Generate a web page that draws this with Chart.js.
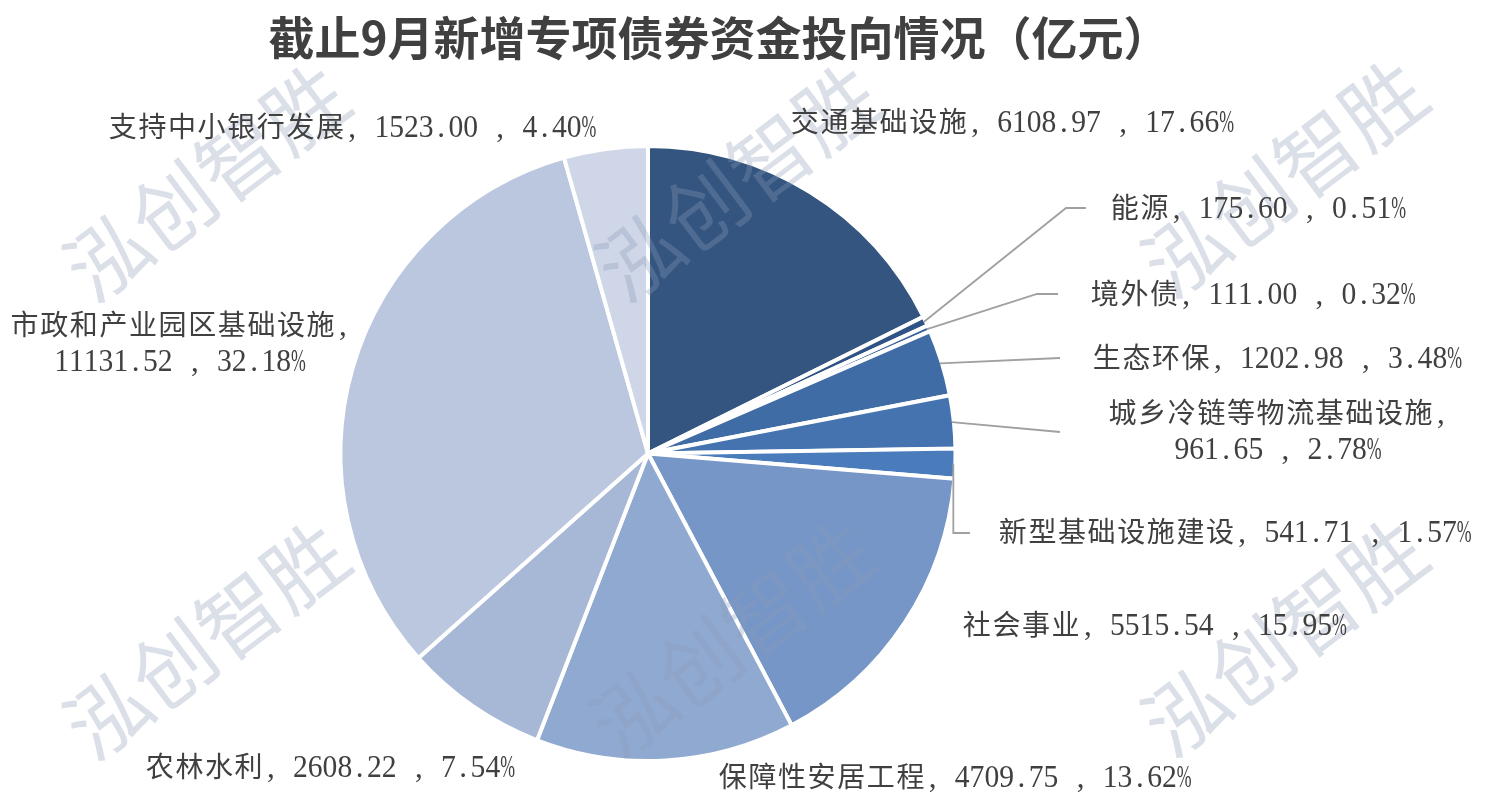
<!DOCTYPE html>
<html>
<head>
<meta charset="utf-8">
<script src="https://cdn.jsdelivr.net/npm/chart.js@4/dist/chart.umd.min.js"></script>
<style>
  html, body { margin: 0; padding: 0; background: #ffffff; }
  #wrap { width: 1488px; height: 805px; position: relative; }
</style>
</head>
<body>
<div id="wrap"><canvas id="chart"></canvas></div>
<script>
const TITLE = "截止9月新增专项债券资金投向情况（亿元）";
const WATERMARK = "泓创智胜";

const CATEGORIES = [
  "交通基础设施",
  "能源",
  "境外债",
  "生态环保",
  "城乡冷链等物流基础设施",
  "新型基础设施建设",
  "社会事业",
  "保障性安居工程",
  "农林水利",
  "市政和产业园区基础设施",
  "支持中小银行发展",
];
const VALUES = [6108.97, 175.60, 111.00, 1202.98, 961.65, 541.71, 5515.54, 4709.75, 2608.22, 11131.52, 1523.00];
const PERCENTS = ["17.66", "0.51", "0.32", "3.48", "2.78", "1.57", "15.95", "13.62", "7.54", "32.18", "4.40"];

const COLORS = [
  "#34557F",
  "#2F5384",
  "#3A629A",
  "#406CA6",
  "#4573B0",
  "#4A7BBB",
  "#7596C6",
  "#90A9D0",
  "#A7B8D7",
  "#BAC7DF",
  "#CED6E8",
];

// where each label sits; "line" holds the leader-line bend points
const LABEL_LAYOUT = [
  { x: 790, y: 122, align: "left" },
  { x: 1110, y: 208, align: "left", line: [[1066, 208], [1086, 208]] },
  { x: 1090, y: 294, align: "left", line: [[1037, 294], [1058, 294]] },
  { x: 1092, y: 358, align: "left", line: [[1060, 358]] },
  { x: 1278, y: 413, align: "center", wrap: true, line: [[1060, 432]] },
  { x: 998, y: 532, align: "left", line: [["arc", 533], [970, 533]] },
  { x: 962, y: 625, align: "left" },
  { x: 718, y: 777, align: "left" },
  { x: 145, y: 767, align: "left" },
  { x: 180, y: 325, align: "center", wrap: true },
  { x: 108, y: 127, align: "left" },
];

const WATERMARK_SPOTS = [[206, 182], [738, 182], [1284, 178], [206, 640], [732, 638], [1284, 637]];

const TEXT_COLOR = "#404040";
const LINE_COLOR = "#A0A0A0";
const CJK_RE = /[\u2E80-\u9FFF\u3000-\u303F\uFF00-\uFFEF]/;
const CJK_CELL = 29.6;
const ASCII_CELL = 14.8;

function textWidth(str) {
  let w = 0;
  for (const ch of str) w += CJK_RE.test(ch) ? CJK_CELL : ASCII_CELL;
  return w;
}

// fixed-cell text, like the song-style font of the original
function drawCellText(ctx, str, x, y, align) {
  let cx = align === "center" ? x - textWidth(str) / 2 : x;
  const base = y + 10;
  ctx.fillStyle = TEXT_COLOR;
  ctx.textAlign = "center";
  ctx.textBaseline = "alphabetic";
  for (const ch of str) {
    const cjk = CJK_RE.test(ch);
    const cell = cjk ? CJK_CELL : ASCII_CELL;
    if (ch !== " ") {
      ctx.font = cjk ? '28px "Noto Sans CJK SC"' : '31px "Liberation Serif"';
      const w = ctx.measureText(ch).width;
      ctx.save();
      ctx.translate(cx + cell / 2, base);
      if (w > cell) ctx.scale(cell / w, 1);
      ctx.fillText(ch, 0, 0);
      ctx.restore();
    }
    cx += cell;
  }
}

function labelLines(i) {
  const name = CATEGORIES[i];
  const rest = `${VALUES[i].toFixed(2)} , ${PERCENTS[i]}%`;
  if (LABEL_LAYOUT[i].wrap) return [`${name},`, rest];
  return [`${name}, ${rest}`];
}

const overlayPlugin = {
  id: "overlay",
  afterDraw(chart) {
    const ctx = chart.ctx;
    const arcs = chart.getDatasetMeta(0).data;

    // watermark
    ctx.save();
    ctx.fillStyle = "rgba(140, 155, 185, 0.32)";
    ctx.font = '82px "Noto Sans CJK SC"';
    ctx.textAlign = "center";
    ctx.textBaseline = "middle";
    for (const [wx, wy] of WATERMARK_SPOTS) {
      ctx.save();
      ctx.translate(wx, wy);
      ctx.rotate(-37 * Math.PI / 180);
      ctx.fillText(WATERMARK, 0, 0);
      ctx.restore();
    }
    ctx.restore();

    // leader lines
    ctx.save();
    ctx.strokeStyle = LINE_COLOR;
    ctx.lineWidth = 1.8;
    LABEL_LAYOUT.forEach((lay, i) => {
      if (!lay.line) return;
      const arc = arcs[i];
      const mid = (arc.startAngle + arc.endAngle) / 2;
      const r = arc.outerRadius - 2;
      const sx = arc.x + Math.cos(mid) * r;
      const sy = arc.y + Math.sin(mid) * r;
      ctx.beginPath();
      ctx.moveTo(sx, sy);
      for (const [px, py] of lay.line) {
        ctx.lineTo(px === "arc" ? sx : px, py);
      }
      ctx.stroke();
    });
    ctx.restore();

    // labels
    LABEL_LAYOUT.forEach((lay, i) => {
      labelLines(i).forEach((line, k) => {
        drawCellText(ctx, line, lay.x, lay.y + k * 36, lay.align);
      });
    });

    // title
    ctx.save();
    ctx.fillStyle = TEXT_COLOR;
    ctx.font = 'bold 46px "Noto Sans CJK SC"';
    ctx.textAlign = "center";
    ctx.textBaseline = "middle";
    ctx.fillText(TITLE, 719, 38);
    ctx.restore();
  },
};

new Chart(document.getElementById("chart"), {
  type: "pie",
  data: {
    labels: CATEGORIES,
    datasets: [{
      data: VALUES,
      backgroundColor: COLORS,
      borderColor: "#ffffff",
      borderWidth: 4,
    }],
  },
  options: {
    responsive: true,
    maintainAspectRatio: false,
    animation: false,
    layout: { padding: { left: 0, right: 192, top: 144, bottom: 42 } },
    plugins: {
      legend: { display: false },
      tooltip: { enabled: false },
      title: { display: false },
    },
  },
  plugins: [overlayPlugin],
});
</script>
</body>
</html>
